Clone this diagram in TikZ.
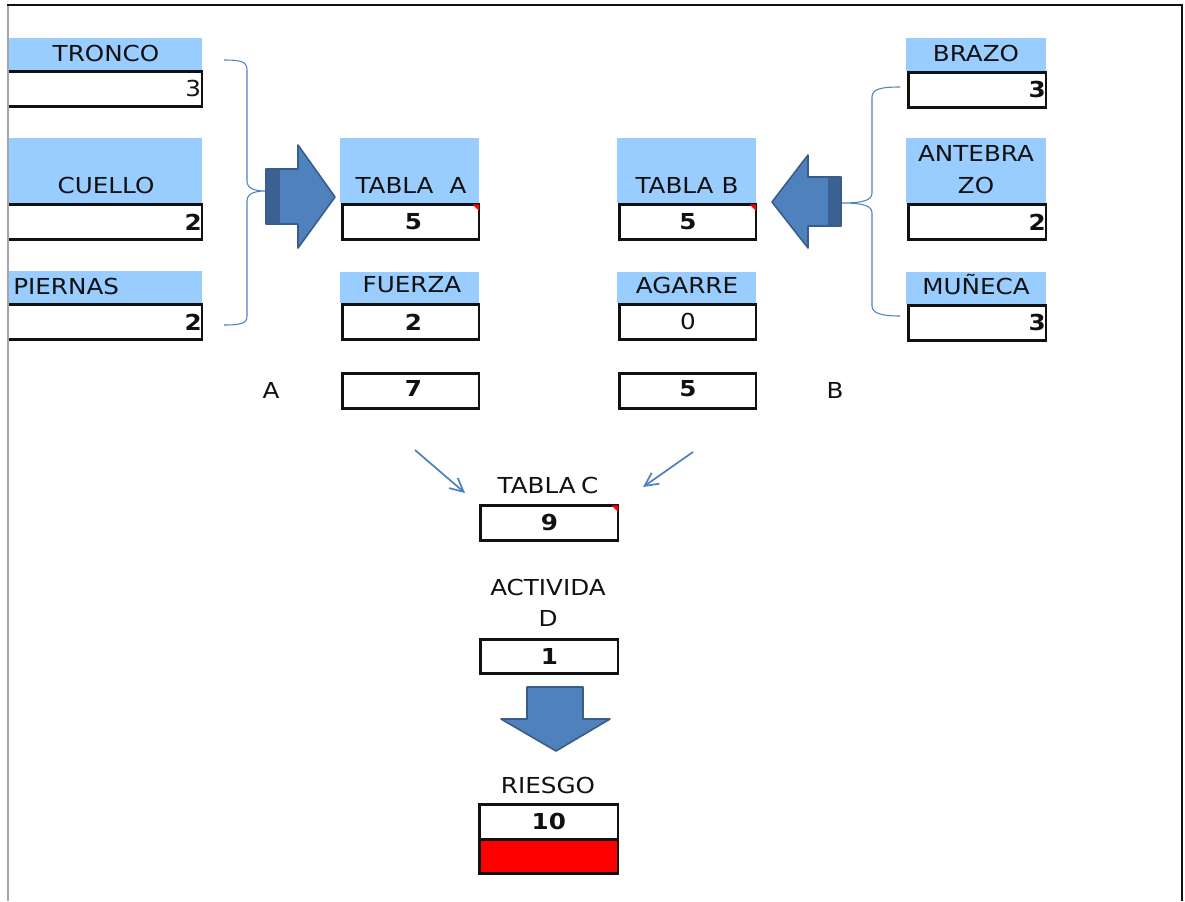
\documentclass[tikz,border=0pt]{standalone}
\usepackage{fontspec}
\setmainfont{DejaVu Sans}[FakeStretch=1.12]
\usetikzlibrary{arrows.meta}
\definecolor{hdrblue}{HTML}{99CCFF}
\definecolor{arrfill}{HTML}{4F81BD}
\definecolor{arredge}{HTML}{385D8A}
\definecolor{arrdark}{HTML}{3A6192}
\definecolor{framegray}{HTML}{A6A6A6}
\definecolor{inkblack}{HTML}{111111}
\def\pxu{0.75pt}
\newcommand\redmark[1]{\fill[red] ([xshift=-1pt,yshift=-1pt]#1.north east) -- ++(-5pt,0) -- ++(5pt,-5pt) -- cycle;}
\begin{document}
\begin{tikzpicture}[x=0.75pt,y=-0.75pt,
  lbl/.style={font=\fontsize{16.5pt}{19pt}\selectfont, text=inkblack, inner sep=0},
  num/.style={font=\fontsize{16.5pt}{19pt}\selectfont\bfseries, text=inkblack, inner sep=0},
  hdr/.style 2 args={fill=hdrblue, draw=none, minimum width=#1*\pxu, minimum height=#2*\pxu, inner sep=0, anchor=north west},
  vbox/.style 2 args={draw=inkblack, line width=2pt, fill=white, minimum width=(#1-2.6)*\pxu, minimum height=(#2)*\pxu, inner sep=0, anchor=north west, xshift=1.3*\pxu},
  bigarrow/.style={fill=arrfill, draw=arredge, line width=1.2pt, line join=round},
  brace/.style={draw=arrfill, line width=0.8pt},
  thinarrow/.style={draw=arrfill, line width=1.3pt, -{Straight Barb[length=10pt,width=10pt,line width=1.3pt]}}
]
\useasboundingbox (0,0) rectangle (1185,901);

% ---------- left column (clipped at the frame) ----------
\begin{scope}
\clip (8,0) rectangle (400,901);
\node[hdr={202}{32}] (hTr) at (0,38) {};
\node[vbox={202}{35}] (vTr) at (0,70) {};
\node[hdr={202}{65}] (hCu) at (0,138) {};
\node[vbox={202}{35}] (vCu) at (0,203) {};
\node[hdr={202}{32}] (hPi) at (0,271) {};
\node[vbox={202}{35}] (vPi) at (0,303) {};
\end{scope}
\node[lbl] (tTr) at (106,53) {TRONCO};
\node[lbl, anchor=east] (nTr) at ([xshift=-1.5pt]vTr.east) {3};
\node[lbl] (tCu) at (106,185) {CUELLO};
\node[num, anchor=east] (nCu) at ([xshift=-1pt]vCu.east) {2};
\node[lbl, anchor=west] (tPi) at (13,286) {PIERNAS};
\node[num, anchor=east] (nPi) at ([xshift=-1pt]vPi.east) {2};

% ---------- column A ----------
\node[hdr={139}{65}] (hTA) at (340,138) {};
\node[vbox={139}{35}] (vTA) at (340,203) {};
\node[lbl] (tTA) at (411,185) {TABLA\hspace{12pt}A};
\node[num] (nTA) at ([xshift=2pt]vTA.center) {5};
\redmark{vTA}
\node[hdr={139}{31}] (hFu) at (340,272) {};
\node[vbox={139}{35}] (vFu) at (340,303) {};
\node[lbl] (tFu) at (412,285) {FUERZA};
\node[num] (nFu) at ([xshift=2pt]vFu.center) {2};
\node[vbox={139}{35}] (vA7) at (340,372) {};
\node[num] (nA7) at ([xshift=2pt,yshift=1.5pt]vA7.center) {7};
\node[lbl] (lA) at (271,390) {A};

% ---------- column B ----------
\node[hdr={139}{65}] (hTB) at (617,138) {};
\node[vbox={139}{35}] (vTB) at (617,203) {};
\node[lbl] (tTB) at (687,185) {TABLA\hspace{6pt}B};
\node[num] (nTB) at (vTB.center) {5};
\redmark{vTB}
\node[hdr={139}{31}] (hAg) at (617,272) {};
\node[vbox={139}{35}] (vAg) at (617,303) {};
\node[lbl] (tAg) at (687,285) {AGARRE};
\node[lbl] (nAg) at (vAg.center) {0};
\node[vbox={139}{35}] (vB5) at (617,372) {};
\node[num] (nB5) at ([yshift=1.5pt]vB5.center) {5};
\node[lbl] (lB) at (835,390) {B};

% ---------- right column ----------
\node[hdr={140}{33}] (hBr) at (906,38) {};
\node[vbox={140}{35}] (vBr) at (906,71) {};
\node[lbl] (tBr) at (976,53) {BRAZO};
\node[num, anchor=east] (nBr) at ([xshift=-1pt]vBr.east) {3};
\node[hdr={140}{65}] (hAn) at (906,138) {};
\node[vbox={140}{35}] (vAn) at (906,203) {};
\node[lbl] (tAn1) at (976,153) {ANTEBRA};
\node[lbl] (tAn2) at (976,185) {ZO};
\node[num, anchor=east] (nAn) at ([xshift=-1pt]vAn.east) {2};
\node[hdr={140}{32}] (hMu) at (906,272) {};
\node[vbox={140}{35}] (vMu) at (906,304) {};
\node[lbl] (tMu) at (976,285) {MUÑECA};
\node[num, anchor=east] (nMu) at ([xshift=-1pt]vMu.east) {3};

% ---------- bottom ----------
\node[lbl] (tTC) at (548,485) {TABLA\hspace{4pt}C};
\node[vbox={140}{35}] (vTC) at (478,504) {};
\node[num] (nTC) at (vTC.center) {9};
\redmark{vTC}
\node[lbl] (tAc1) at (548,587) {ACTIVIDA};
\node[lbl] (tAc2) at (548,618) {D};
\node[vbox={140}{34}] (vAc) at (478,638) {};
\node[num] (nAc) at (vAc.center) {1};
\node[lbl] (tRi) at (548,785) {RIESGO};
\node[vbox={141}{35}] (vRi) at (477,803) {};
\node[num] (nRi) at (vRi.center) {10};
\node[vbox={141}{34}, fill=red] (rRi) at (477,838) {};

% ---------- big arrows ----------
\path[bigarrow] (266,169) -- (298,169) -- (298,145) -- (335,197) -- (298,248) -- (298,224) -- (266,224) -- cycle;
\fill[arrdark] (266.8,169.8) rectangle (280,223.2);
\path[bigarrow] (841,177) -- (808,177) -- (808,155) -- (772,202) -- (808,248) -- (808,226) -- (841,226) -- cycle;
\fill[arrdark] (828,177.8) rectangle (840.2,225.2);
\path[bigarrow] (527,687) -- (583,687) -- (583,719) -- (610,719) -- (556,751) -- (501,719) -- (527,719) -- cycle;

% ---------- braces ----------
\coordinate (bLt) at (224,60);
\coordinate (bLm) at (265,191);
\coordinate (bLb) at (224,325);
\draw[brace] (bLt) .. controls (242,60) and (247,62) .. (247,70) -- (247,181)
  .. controls (247,188) and (254,191) .. (bLm)
  .. controls (254,191) and (247,194) .. (247,201) -- (247,316)
  .. controls (247,323) and (242,325) .. (bLb);
\coordinate (bRt) at (900,87);
\coordinate (bRm) at (842,203);
\coordinate (bRb) at (900,316);
\draw[brace] (bRt) .. controls (881,87) and (872,89) .. (872,97) -- (872,193)
  .. controls (872,200) and (864,203) .. (bRm)
  .. controls (864,203) and (872,206) .. (872,213) -- (872,306)
  .. controls (872,313) and (881,316) .. (bRb);

% ---------- thin arrows to TABLA C ----------
\coordinate (aLs) at (415,450);
\coordinate (aLe) at (465,493);
\coordinate (aRs) at (693,452);
\coordinate (aRe) at (643,487);
\draw[thinarrow] (aLs) -- (aLe);
\draw[thinarrow] (aRs) -- (aRe);

% ---------- frame ----------
\draw[framegray, line width=1.5pt] (8,5) -- (8,901);
\draw[inkblack, line width=2.2pt] (7,5) -- (1182,5) -- (1182,901);
\end{tikzpicture}
\end{document}
